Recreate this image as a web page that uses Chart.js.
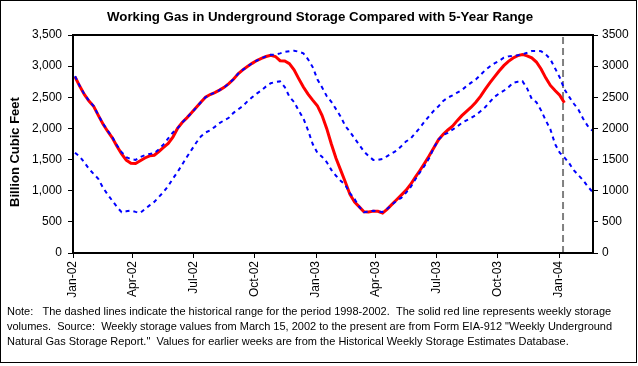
<!DOCTYPE html>
<html>
<head>
<meta charset="utf-8">
<script src="https://cdn.jsdelivr.net/npm/chart.js@4.4.1/dist/chart.umd.min.js"></script>
<style>
  html, body { margin: 0; padding: 0; background: #ffffff; }
  #wrap { width: 638px; height: 366px; position: relative; }
</style>
</head>
<body>
<div id="wrap"><canvas id="c" width="638" height="366"></canvas></div>
<script>
// ---------------- texts ----------------
const chartTitle = 'Working Gas in Underground Storage Compared with 5-Year Range';
const yAxisTitle = 'Billion Cubic Feet';
const noteLines = [
  'Note:   The dashed lines indicate the historical range for the period 1998-2002.  The solid red line represents weekly storage',
  'volumes.  Source:  Weekly storage values from March 15, 2002 to the present are from Form EIA-912 "Weekly Underground',
  'Natural Gas Storage Report."  Values for earlier weeks are from the Historical Weekly Storage Estimates Database.'
];

// ---------------- axis / categories ----------------
const axisStart = '2002-01-01';
const axisEnd = '2004-02-21';
const firstWeekEnding = '2002-01-04';          // weekly points, one every 7 days from here
const tickDates = ['2002-01-01','2002-04-01','2002-07-01','2002-10-01','2003-01-01','2003-04-01','2003-07-01','2003-10-01','2004-01-01'];
const tickLabels = ['Jan-02','Apr-02','Jul-02','Oct-02','Jan-03','Apr-03','Jul-03','Oct-03','Jan-04'];
const markerDate = '2004-01-07';
const yTickValues = [0, 500, 1000, 1500, 2000, 2500, 3000, 3500];

// ---------------- series (Bcf) ----------------
const weeklyStorage = [
  2830, 2680, 2545, 2440, 2355, 2210, 2070, 1955, 1850, 1715,
  1592, 1491, 1440, 1437, 1480, 1525, 1560, 1570, 1630, 1695,
  1760, 1860, 2000, 2095, 2170, 2250, 2335, 2420, 2500, 2545,
  2575, 2615, 2660, 2720, 2790, 2878, 2940, 2995, 3045, 3090,
  3125, 3155, 3175, 3155, 3087, 3082, 3040, 2940, 2800, 2665,
  2550, 2455, 2365, 2210, 2000, 1750, 1520, 1330, 1140, 940,
  818, 740, 660, 658, 672, 670, 640, 705, 780, 855,
  930, 1005, 1100, 1215, 1325, 1440, 1560, 1690, 1820, 1905,
  1975, 2037, 2125, 2205, 2275, 2340, 2420, 2515, 2627, 2730,
  2828, 2922, 3008, 3077, 3131, 3170, 3188, 3165, 3133, 3066,
  2955, 2812, 2690, 2608, 2535, 2412
];
const fiveYearMax = [
  2840, 2685, 2550, 2445, 2360, 2215, 2080, 1965, 1860, 1730,
  1620, 1540, 1505, 1495, 1540, 1570, 1590, 1600, 1665, 1745,
  1840, 1935, 2000, 2095, 2170, 2250, 2335, 2420, 2500, 2545,
  2575, 2615, 2660, 2720, 2790, 2878, 2940, 2995, 3045, 3090,
  3127, 3158, 3182, 3186, 3205, 3228, 3240, 3248, 3232, 3206,
  3110, 2985, 2790, 2660, 2520, 2428, 2310, 2190, 2040, 1945,
  1840, 1735, 1630, 1555, 1495, 1495, 1510, 1555, 1600, 1645,
  1715, 1790, 1835, 1925, 2010, 2110, 2200, 2285, 2357, 2440,
  2495, 2530, 2575, 2616, 2680, 2735, 2785, 2860, 2935, 2995,
  3045, 3085, 3135, 3157, 3166, 3176, 3190, 3215, 3243, 3243,
  3240, 3190, 3110, 2965, 2820, 2630, 2510, 2400, 2305, 2160,
  2040, 1965
];
const fiveYearMin = [
  1610, 1550, 1455, 1350, 1270, 1190, 1050, 940, 840, 740,
  655, 670, 682, 660, 645, 705, 765, 820, 900, 980,
  1075, 1195, 1300, 1420, 1540, 1655, 1770, 1870, 1935, 1970,
  2025, 2085, 2130, 2171, 2250, 2305, 2359, 2435, 2500, 2560,
  2610, 2675, 2726, 2745, 2755, 2665, 2510, 2425, 2285, 2160,
  1970, 1750, 1610, 1545, 1460, 1335, 1240, 1160, 1092, 960,
  865, 740, 655, 665, 680, 665, 660, 710, 775, 840,
  885, 965, 1055, 1180, 1295, 1400, 1525, 1690, 1820, 1895,
  1930, 1980, 2030, 2090, 2130, 2170, 2215, 2275, 2340, 2425,
  2505, 2563, 2605, 2660, 2732, 2750, 2760, 2643, 2475, 2420,
  2290, 2130, 1985, 1750, 1610, 1535, 1445, 1330, 1250, 1170,
  1070, 985
];

// ---------------- helpers ----------------
const FONT = 'Arial, "Liberation Sans", sans-serif';
function dayOf(s) {
  return Math.round((Date.parse(s + 'T00:00:00Z') - Date.parse(axisStart + 'T00:00:00Z')) / 86400000);
}
const firstDay = dayOf(firstWeekEnding);
const toPoints = arr => arr.map((v, i) => ({ x: firstDay + 7 * i, y: v }));
const markerDay = dayOf(markerDate);

const decor = {
  id: 'decor',
  afterDraw(chart) {
    const ctx = chart.ctx, a = chart.chartArea;
    ctx.save();
    ctx.strokeStyle = '#000';
    ctx.lineWidth = 2;
    ctx.strokeRect(a.left, a.top, a.right - a.left, a.bottom - a.top);
    ctx.lineWidth = 1;
    ctx.strokeRect(0.5, 0.5, 636, 362);
    ctx.fillStyle = '#000';
    ctx.font = 'bold 13.3px ' + FONT;
    ctx.textAlign = 'center';
    ctx.textBaseline = 'middle';
    ctx.fillText(chartTitle, 320, 17);
    // y-axis title
    ctx.save();
    ctx.translate(15.5, 152);
    ctx.rotate(-Math.PI / 2);
    ctx.font = 'bold 13px ' + FONT;
    ctx.fillText(yAxisTitle, 0, 0);
    ctx.restore();
    ctx.font = '11px ' + FONT;
    ctx.textAlign = 'left';
    noteLines.forEach((t, i) => ctx.fillText(t, 7, 312 + i * 15));
    ctx.restore();
  }
};

new Chart(document.getElementById('c'), {
  type: 'line',
  data: {
    datasets: [
      { label: '5-Year Max', data: toPoints(fiveYearMax), borderColor: '#0000FF', borderWidth: 2, borderDash: [4, 4], pointRadius: 0, yAxisID: 'y', order: 0 },
      { label: '5-Year Min', data: toPoints(fiveYearMin), borderColor: '#0000FF', borderWidth: 2, borderDash: [4, 4], pointRadius: 0, yAxisID: 'y', order: 0 },
      { label: 'Weekly Storage', data: toPoints(weeklyStorage), borderColor: '#FF0000', borderWidth: 3, pointRadius: 0, yAxisID: 'y', order: 1 },
      { label: 'Current', data: [{ x: markerDay, y: 0 }, { x: markerDay, y: 3500 }], borderColor: '#808080', borderWidth: 2, borderDash: [7, 4], pointRadius: 0, yAxisID: 'y', order: 2 }
    ]
  },
  options: {
    responsive: false,
    animation: false,
    layout: { padding: { top: 35, left: 0, right: 0, bottom: 0 } },
    plugins: { legend: { display: false }, tooltip: { enabled: false }, title: { display: false } },
    elements: { line: { tension: 0 } },
    scales: {
      x: {
        type: 'linear', min: 0, max: dayOf(axisEnd),
        afterBuildTicks: s => { s.ticks = tickDates.map(d => ({ value: dayOf(d) })); },
        afterFit: s => { s.height = 366 - 253; },
        ticks: { autoSkip: false, minRotation: 90, maxRotation: 90, color: '#000', padding: 3,
                 font: { family: FONT, size: 12 }, callback: (v, i) => tickLabels[i] },
        grid: { drawOnChartArea: false, drawTicks: true, tickLength: 5, color: '#000', lineWidth: 1 },
        border: { color: '#000', width: 2 }
      },
      y: {
        position: 'left', min: 0, max: 3500,
        afterBuildTicks: s => { s.ticks = yTickValues.map(v => ({ value: v })); },
        afterFit: s => { s.width = 73; },
        ticks: { color: '#000', padding: 6, font: { family: FONT, size: 12 },
                 callback: v => Number(v).toLocaleString('en-US') },
        grid: { drawOnChartArea: false, drawTicks: true, tickLength: 5, color: '#000', lineWidth: 1 },
        border: { color: '#000', width: 2 },
        title: { display: false }
      },
      y2: {
        position: 'right', min: 0, max: 3500,
        afterBuildTicks: s => { s.ticks = yTickValues.map(v => ({ value: v })); },
        afterFit: s => { s.width = 45; },
        ticks: { color: '#000', padding: 4, font: { family: FONT, size: 12 }, callback: v => String(v) },
        grid: { drawOnChartArea: false, drawTicks: true, tickLength: 5, color: '#000', lineWidth: 1 },
        border: { color: '#000', width: 2 }
      }
    }
  },
  plugins: [decor]
});
</script>
</body>
</html>
